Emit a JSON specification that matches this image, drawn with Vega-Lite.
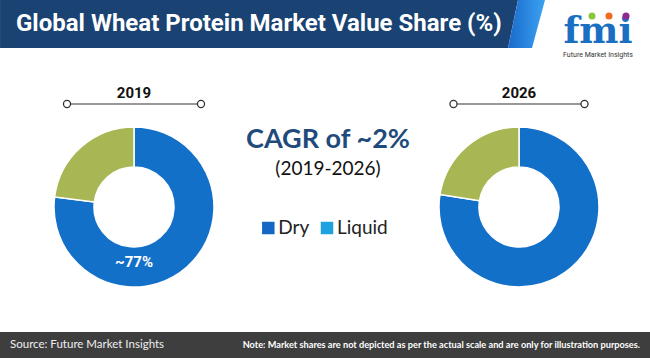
{
  "$schema": "https://vega.github.io/schema/vega-lite/v6.json",
  "padding": 0,
  "background": "white",
  "spacing": 0,
  "config": {"view": {"stroke": null}, "concat": {"spacing": 0}, "text": {"font": "Lato"}},
  "datasets": {
    "shares": [
      {"year": "2019", "type": "Dry", "share": 77, "label": "~77%"},
      {"year": "2019", "type": "Liquid", "share": 23},
      {"year": "2026", "type": "Dry", "share": 77.5},
      {"year": "2026", "type": "Liquid", "share": 22.5}
    ],
    "types": [{"type": "Dry"}, {"type": "Liquid"}]
  },
  "vconcat": [
    {
      "width": 650,
      "height": 82,
      "data": {"values": [{"title": "Global Wheat Protein Market Value Share (%)", "brand": "fmi", "sub": "Future Market Insights"}]},
      "layer": [
        {"mark": {"type": "point", "shape": "M -10.79 -1 L 10.79 -1 L 10.375 1 L -10.79 1 Z", "filled": true, "opacity": 1, "size": 2304, "color": "#1a4272", "strokeWidth": 0}, "encoding": {"x": {"value": 259}, "y": {"value": 24}}},
        {"mark": {"type": "point", "shape": "M -0.083 -1 L 1.042 -1 L 0.5 1 L -0.5 1 Z", "filled": true, "opacity": 1, "size": 2304, "strokeWidth": 0, "fill": {"gradient": "linear", "x1": 0, "x2": 1, "y1": 0, "y2": 0, "stops": [{"offset": 0, "color": "#1a6acb"}, {"offset": 1, "color": "#3aa2f2"}]}}, "encoding": {"x": {"value": 520}, "y": {"value": 24}}},
        {"mark": {"type": "text", "align": "left", "baseline": "middle", "font": "Roboto", "fontSize": 24, "fontWeight": "bold", "color": "white"}, "encoding": {"x": {"value": 16}, "y": {"value": 24}, "text": {"field": "title"}}},
        {"mark": {"type": "text", "align": "center", "baseline": "alphabetic", "font": "DejaVu Serif", "fontWeight": "bold", "fontSize": 37, "color": "#1b6fc2"}, "encoding": {"x": {"value": 598}, "y": {"value": 43}, "text": {"field": "brand"}}},
        {"mark": {"type": "text", "align": "center", "baseline": "middle", "font": "Roboto", "fontSize": 7, "color": "#333333"}, "encoding": {"x": {"value": 598}, "y": {"value": 55}, "text": {"field": "sub"}}},
        {"mark": {"type": "circle", "color": "#8cc63f", "size": 50, "opacity": 1}, "encoding": {"x": {"value": 592}, "y": {"value": 16}}},
        {"mark": {"type": "circle", "color": "#f26b21", "size": 50, "opacity": 1}, "encoding": {"x": {"value": 609}, "y": {"value": 16}}},
        {"mark": {"type": "circle", "color": "#92278f", "size": 50, "opacity": 1}, "encoding": {"x": {"value": 626}, "y": {"value": 16}}}
      ]
    },
    {
      "bounds": "flush",
      "hconcat": [
        {
          "width": 268,
          "height": 250,
          "layer": [
            {"data": {"name": "shares"}, "transform": [{"filter": "datum.year === '2019'"}], "mark": {"type": "arc", "outerRadius": 80, "innerRadius": 40, "stroke": "white", "strokeWidth": 1.5}, "encoding": {"theta": {"field": "share", "type": "quantitative", "stack": true}, "fill": {"field": "type", "type": "nominal", "scale": {"domain": ["Dry", "Liquid"], "range": ["#1370c8", "#a8b653"]}, "legend": null}, "order": {"field": "type"}}},
            {"data": {"name": "shares"}, "transform": [{"filter": "datum.year === '2019' && isValid(datum.label)"}], "mark": {"type": "text", "dy": 55, "font": "Roboto", "fontSize": 15, "fontWeight": "bold", "color": "white"}, "encoding": {"text": {"field": "label"}}},
            {"data": {"values": [{"year": "2019"}]}, "mark": {"type": "rule", "color": "#333333", "strokeWidth": 1.2}, "encoding": {"x": {"datum": -1, "type": "quantitative", "scale": {"domain": [-2, 2]}, "axis": null}, "x2": {"datum": 1}, "y": {"value": 22}}},
            {"data": {"values": [{"year": "2019"}]}, "mark": {"type": "point", "shape": "circle", "filled": true, "fill": "white", "stroke": "#333333", "strokeWidth": 1.3, "size": 50, "opacity": 1}, "encoding": {"x": {"datum": -1, "type": "quantitative"}, "y": {"value": 22}}},
            {"data": {"values": [{"year": "2019"}]}, "mark": {"type": "point", "shape": "circle", "filled": true, "fill": "white", "stroke": "#333333", "strokeWidth": 1.3, "size": 50, "opacity": 1}, "encoding": {"x": {"datum": 1, "type": "quantitative"}, "y": {"value": 22}}},
            {"data": {"values": [{"year": "2019"}]}, "mark": {"type": "text", "dy": -114, "font": "Roboto", "fontSize": 15, "fontWeight": "bold", "color": "#111111"}, "encoding": {"text": {"field": "year"}}}
          ]
        },
        {
          "width": 120,
          "height": 250,
          "layer": [
            {"data": {"values": [{"t": "CAGR of ~2%"}]}, "mark": {"type": "text", "dy": -67, "font": "Lato", "fontSize": 27, "fontWeight": "bold", "color": "#1f4b7c"}, "encoding": {"text": {"field": "t"}}},
            {"data": {"values": [{"t": "(2019-2026)"}]}, "mark": {"type": "text", "dy": -38, "font": "Lato", "fontSize": 19, "color": "#111111"}, "encoding": {"text": {"field": "t"}}},
            {"data": {"name": "types"}, "mark": {"type": "point", "shape": "square", "filled": true, "size": 156, "opacity": 1, "strokeWidth": 0}, "encoding": {"x": {"field": "type", "type": "nominal", "scale": {"type": "point", "domain": ["Dry", "Liquid"], "range": [0.3, 59], "padding": 0}, "axis": null}, "y": {"value": 146}, "color": {"field": "type", "type": "nominal", "scale": {"domain": ["Dry", "Liquid"], "range": ["#1467c4", "#1ea2df"]}, "legend": null}}},
            {"data": {"name": "types"}, "mark": {"type": "text", "align": "left", "baseline": "middle", "dx": 10, "font": "Lato", "fontSize": 19, "color": "#222222"}, "encoding": {"x": {"field": "type", "type": "nominal"}, "y": {"value": 146}, "text": {"field": "type"}}}
          ]
        },
        {
          "width": 262,
          "height": 250,
          "layer": [
            {"data": {"name": "shares"}, "transform": [{"filter": "datum.year === '2026'"}], "mark": {"type": "arc", "outerRadius": 80, "innerRadius": 40, "stroke": "white", "strokeWidth": 1.5}, "encoding": {"theta": {"field": "share", "type": "quantitative", "stack": true}, "fill": {"field": "type", "type": "nominal", "scale": {"domain": ["Dry", "Liquid"], "range": ["#1370c8", "#a8b653"]}, "legend": null}, "order": {"field": "type"}}},
            {"data": {"values": [{"year": "2026"}]}, "mark": {"type": "rule", "color": "#333333", "strokeWidth": 1.2}, "encoding": {"x": {"datum": -1, "type": "quantitative", "scale": {"domain": [-1.94, 1.94]}, "axis": null}, "x2": {"datum": 1}, "y": {"value": 22}}},
            {"data": {"values": [{"year": "2026"}]}, "mark": {"type": "point", "shape": "circle", "filled": true, "fill": "white", "stroke": "#333333", "strokeWidth": 1.3, "size": 50, "opacity": 1}, "encoding": {"x": {"datum": -1, "type": "quantitative"}, "y": {"value": 22}}},
            {"data": {"values": [{"year": "2026"}]}, "mark": {"type": "point", "shape": "circle", "filled": true, "fill": "white", "stroke": "#333333", "strokeWidth": 1.3, "size": 50, "opacity": 1}, "encoding": {"x": {"datum": 1, "type": "quantitative"}, "y": {"value": 22}}},
            {"data": {"values": [{"year": "2026"}]}, "mark": {"type": "text", "dy": -114, "font": "Roboto", "fontSize": 15, "fontWeight": "bold", "color": "#111111"}, "encoding": {"text": {"field": "year"}}}
          ]
        }
      ]
    },
    {
      "width": 650,
      "height": 26,
      "view": {"fill": "#3e3e3e", "stroke": null},
      "data": {"values": [{"src": "Source: Future Market Insights", "note": "Note: Market shares are not depicted as per the actual scale and are only for illustration purposes."}]},
      "layer": [
        {"mark": {"type": "text", "align": "left", "font": "Lato", "fontSize": 11.5, "color": "#eeeeee"}, "encoding": {"x": {"value": 10}, "text": {"field": "src"}}},
        {"mark": {"type": "text", "align": "right", "font": "Lato", "fontSize": 9.2, "fontWeight": "bold", "color": "#ffffff"}, "encoding": {"x": {"value": 640}, "text": {"field": "note"}}}
      ]
    }
  ]
}
